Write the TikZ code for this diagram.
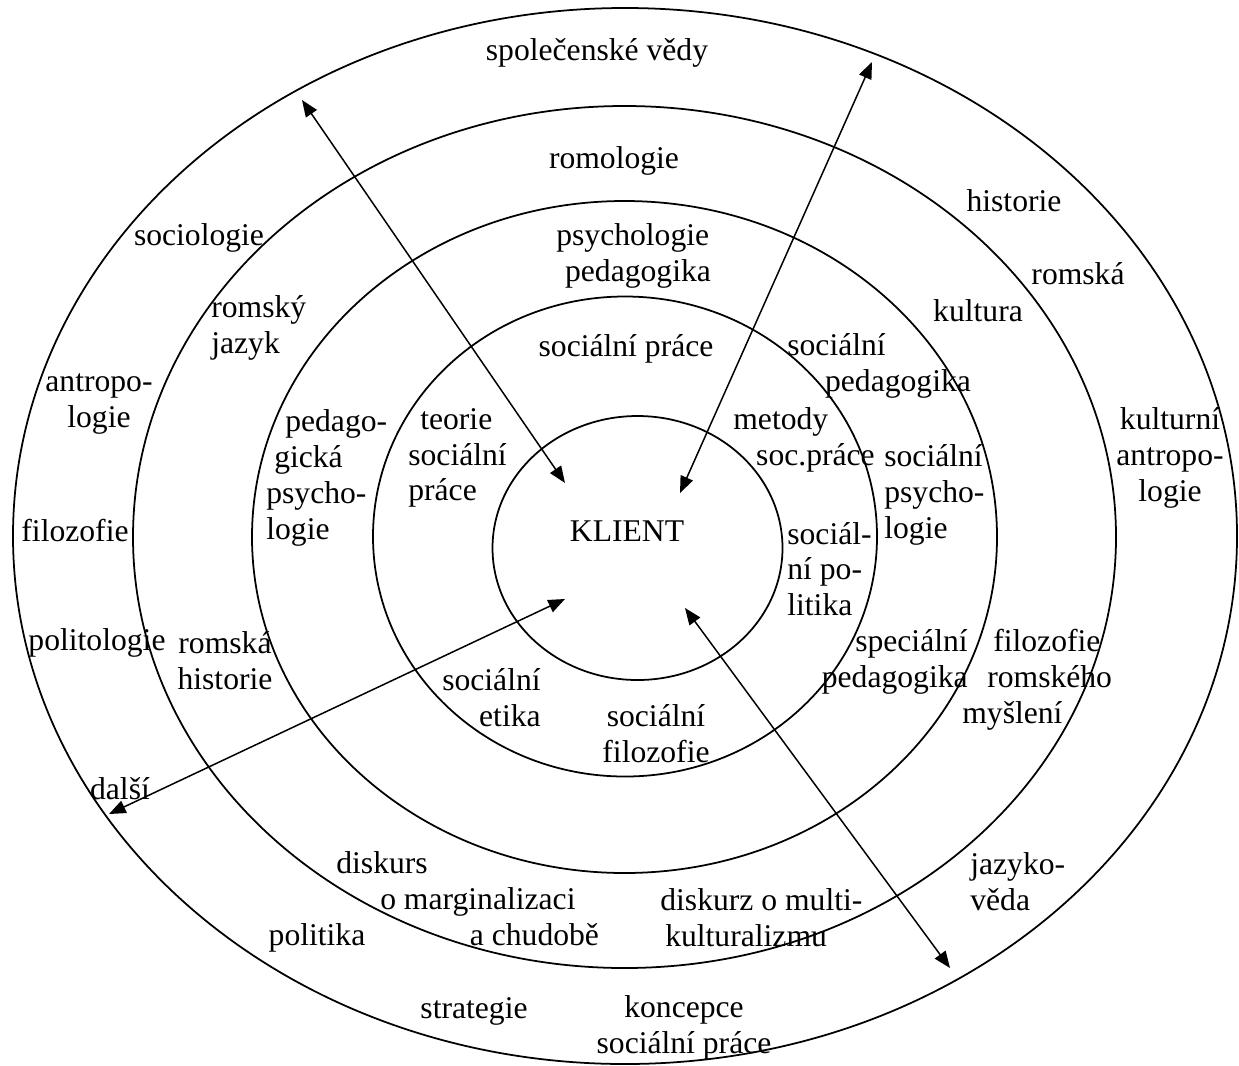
\documentclass[tikz,border=0pt]{standalone}
\usepackage{fontspec}
\setmainfont{Liberation Serif}
\usetikzlibrary{arrows.meta, shapes.geometric}

\begin{document}
\begin{tikzpicture}[
    x=0.02cm, y=-0.02cm,
    ring/.style 2 args = {draw, ellipse, line width=1pt, inner sep=0pt,
                          minimum width=#1*0.02cm, minimum height=#2*0.02cm},
    lbl/.style  = {inner sep=0pt, font=\fontsize{18}{20.4}\selectfont},
    lblL/.style = {lbl, align=left, anchor=west},
    lblR/.style = {lbl, align=right, anchor=east},
    lblC/.style = {lbl, align=center},
    arr/.style  = {{Triangle[length=9.5pt, width=7.5pt]}-{Triangle[length=9.5pt, width=7.5pt]},
                   line width=0.85pt},
  ]
    \useasboundingbox (0,0) rectangle (1239,1065);

    %% ── Rings ───────────────────────────────────────────────────────────────
    \node[ring={1224}{1056}] (outer)  at (625,   536)   {};
    \node[ring={983}{862}]   (second) at (624.5, 537)   {};
    \node[ring={745}{672}]   (third)  at (624.5, 537)   {};
    \node[ring={504}{480}]   (fourth) at (625,   536.5) {};
    \node[ring={290}{264}]   (klient) at (637.5, 548)   {};

    %% ── Arrows between client and the fields ────────────────────────────────
    \coordinate (ulIn)  at (565, 483);  \coordinate (ulOut) at (302, 100);
    \coordinate (urIn)  at (680, 493);  \coordinate (urOut) at (872,  62);
    \coordinate (llIn)  at (565, 599);  \coordinate (llOut) at (109, 814);
    \coordinate (lrIn)  at (685, 608);  \coordinate (lrOut) at (950, 968);

    \draw[arr] (ulOut) -- (ulIn);
    \draw[arr] (urOut) -- (urIn);
    \draw[arr] (llOut) -- (llIn);
    \draw[arr] (lrOut) -- (lrIn);

    %% centre
    \node[lbl] (klientTxt) at (627, 531) {KLIENT};

    %% ── Inner ring ──────────────────────────────────────────────────────────
    \node[lbl]  (socPrace)  at (626, 349) {sociální práce};
    \node[lblL] (teorie)    at (408, 458) {\hspace*{6.8pt}teorie\\sociální\\práce};
    \node[lblL] (metody)    at (733, 440) {metody\\\hspace*{13pt}soc.práce};
    \node[lblL] (socPol)    at (787, 569) {sociál-\\ní po-\\litika};
    \node[lblR] (socEtika)  at (541, 698) {sociální\\etika};
    \node[lblC] (socFil)    at (656, 734) {sociální\\filozofie};

    %% ── Third ring ──────────────────────────────────────────────────────────
    \node[lblL] (psychPed)  at (556, 256) {psychologie\\\hspace*{5pt}pedagogika};
    \node[lblL] (pedPsych)  at (266, 478) {\hspace*{10.8pt}pedago-\\\hspace*{4.5pt}gická\\psycho-\\logie};
    \node[lblL] (socPed)    at (787, 366) {sociální\\\hspace*{21.5pt}pedagogika};
    \node[lblL] (socPsych)  at (884, 495) {sociální\\psycho-\\logie};
    \node[lblR] (specPed)   at (968, 662) {speciální\\pedagogika};

    %% ── Second ring ─────────────────────────────────────────────────────────
    \node[lbl]  (romologie) at (614, 161) {romologie};
    \node[lblL] (romJazyk)  at (211, 328) {romský\\jazyk};
    \node[lbl]  (kultura)   at (978, 311) {kultura};
    \node[lblC] (romHist)   at (225, 661) {romská\\historie};
    \node[lblL] (filRom)    at (962, 680) {\hspace*{17.6pt}filozofie\\\hspace*{14.2pt}romského\\myšlení};
    \node[lblL] (diskurs)   at (336, 899) {diskurs\\\hspace*{25pt}o marginalizaci\\\hspace*{76pt}a chudobě};
    \node[lblL] (diskurz)   at (660, 918) {diskurz o multi-\\\hspace*{2.8pt}kulturalizmu};

    %% ── Outer ring ──────────────────────────────────────────────────────────
    \node[lbl]  (spolVedy)  at (597,  53) {společenské vědy};
    \node[lbl]  (sociol)    at (199, 238) {sociologie};
    \node[lbl]  (historie)  at (1014, 201) {historie};
    \node[lbl]  (romska)    at (1078, 274) {romská};
    \node[lblC] (antrop)    at (99, 404)  {antropo-\\logie};
    \node[lbl]  (filozofie) at (75, 531)  {filozofie};
    \node[lbl]  (politol)   at (97, 643)  {politologie};
    \node[lbl]  (dalsi)     at (120, 789) {další};
    \node[lbl]  (politika)  at (317, 938) {politika};
    \node[lbl]  (strategie) at (474, 1011) {strategie};
    \node[lblC] (koncepce)  at (684, 1028) {koncepce\\sociální práce};
    \node[lblL] (jazyk)     at (970, 882) {jazyko-\\věda};
    \node[lblC] (kultAntr)  at (1170, 458) {kulturní\\antropo-\\logie};

  \end{tikzpicture}
\end{document}
